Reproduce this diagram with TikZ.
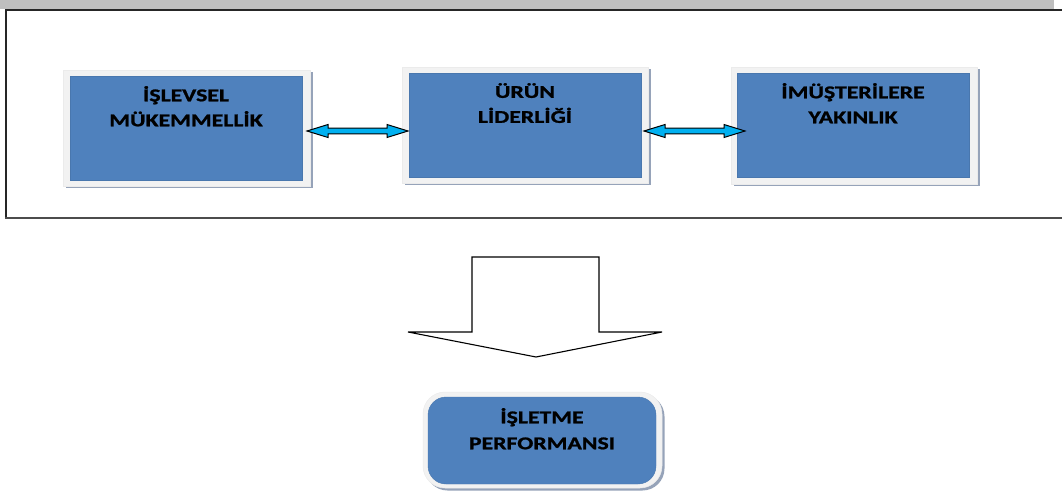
\documentclass[tikz,border=0pt]{standalone}
\usepackage{fontspec}
\setmainfont{Carlito}[BoldFont={Carlito Bold}, BoldFeatures={FakeBold=1.2}, FakeStretch=1.32]
\usetikzlibrary{calc,shadows}
\definecolor{boxblue}{RGB}{79,129,189}
\definecolor{framegray}{RGB}{242,242,242}
\definecolor{shadowc}{RGB}{150,163,185}
\definecolor{arrowcyan}{RGB}{0,176,240}
\definecolor{bandgray}{RGB}{191,191,191}
\newcommand\dblblockarrow[2]{%
  \draw[barrow] (#1) -- ++(21,-6.5) -- ++(0,3.7) -- ($(#2)+(-21,-2.8)$) -- ++(0,-3.7) -- (#2)
    -- ++(-21,6.5) -- ++(0,-3.7) -- ($(#1)+(21,2.8)$) -- ++(0,3.7) -- cycle;}
\begin{document}
\begin{tikzpicture}[x=1pt,y=-1pt,
  outer/.style={fill=framegray, draw=black!8, line width=0.5pt, inner sep=0pt, outer sep=0pt,
    drop shadow={shadow xshift=2.5pt, shadow yshift=-2.5pt, fill=shadowc, opacity=1}},
  inner/.style={fill=boxblue, draw=boxblue!92!black, line width=0.4pt, inner sep=0pt, outer sep=0pt},
  lbl/.style={font=\bfseries\fontsize{18}{25}\selectfont, align=center, anchor=north, inner sep=0pt},
  barrow/.style={fill=arrowcyan, draw=black, line width=1pt, line join=miter},
  bigarrow/.style={fill=white, draw=black, line width=1.1pt, line join=miter},
]
\useasboundingbox (0,0) rectangle (1062,494);
% top band and frame
\fill[bandgray] (0,0) rectangle (1054,9);
\draw[line width=1.5pt, black!85] (6,218) -- (6,10) -- (1062,10);
\draw[line width=2pt, black!70] (5,218.5) -- (1062,218.5);

% box 1
\node[outer, minimum width=247, minimum height=116] (o1) at (186.5,128) {};
\node[inner, minimum width=232, minimum height=104] (i1) at (186,128) {};
\node[lbl] (t1) at ($(i1.north)+(0,10)$) {İŞLEVSEL\\MÜKEMMELLİK};
% box 2
\node[outer, minimum width=246, minimum height=116] (o2) at (525,125) {};
\node[inner, minimum width=232, minimum height=104] (i2) at (525,125) {};
\node[lbl] (t2) at ($(i2.north)+(0,10)$) {ÜRÜN\\LİDERLİĞİ};
% box 3
\node[outer, minimum width=246, minimum height=117] (o3) at (854,125.5) {};
\node[inner, minimum width=232, minimum height=104] (i3) at (853,125) {};
\node[lbl] (t3) at ($(i3.north)+(0,10)$) {İMÜŞTERİLERE\\YAKINLIK};

% double arrows
\coordinate (a1l) at ($(o1.east)+(-3,3)$);
\coordinate (a1r) at ($(i2.west)+(-1,6)$);
\coordinate (a2l) at ($(o2.east)+(-4,6)$);
\coordinate (a2r) at ($(i3.west)+(8,6)$);
\dblblockarrow{a1l}{a1r}
\dblblockarrow{a2l}{a2r}

% bottom box
\node[outer, rounded corners=22, minimum width=239, minimum height=96] (o4) at (542.5,440) {};
\node[inner, rounded corners=18, minimum width=228, minimum height=87] (i4) at (542,440.5) {};
\node[lbl, font=\bfseries\fontsize{18}{26}\selectfont] (t4) at ($(i4.north)+(0,11)$) {İŞLETME\\PERFORMANSI};

% big down arrow
\coordinate (dtip) at (536,357);
\draw[bigarrow] (472,257) -- (599,257) -- (599,332) -- (662,332) -- (dtip) -- (408,332) -- (472,332) -- cycle;
\end{tikzpicture}
\end{document}
